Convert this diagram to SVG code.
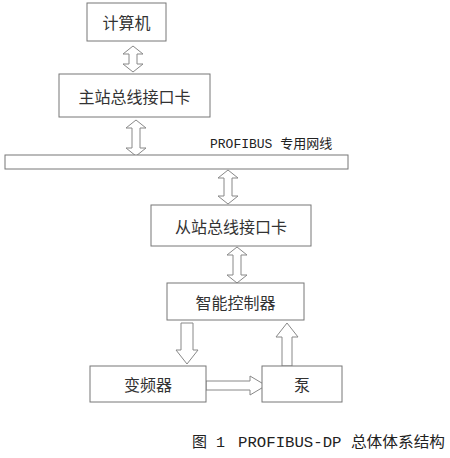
<svg xmlns="http://www.w3.org/2000/svg" width="450" height="458" viewBox="0 0 450 458">
<style>
.box{fill:#fff;stroke:#777;stroke-width:1}
.arr{fill:#fff;stroke:#888;stroke-width:1;stroke-linejoin:miter}
.t{font-family:"Noto Sans CJK SC","Liberation Serif",serif;font-size:16px;fill:#333;text-anchor:middle;dominant-baseline:central}
.lbl{font-family:"Liberation Mono","Noto Sans CJK SC",monospace;font-size:13px;fill:#222}
.cap{font-family:"Liberation Mono","Noto Sans CJK SC",monospace;font-size:15px;fill:#222}
</style>
<rect width="450" height="458" fill="#fff"/>
<g id="connectors">
<path class="arr" d="M133,46 L143,54 L137,54 L137,64 L143,64 L133,72 L123,64 L129,64 L129,54 L123,54 Z"/>
<path class="arr" d="M136,120 L146,128 L140,128 L140,148 L146,148 L136,156 L126,148 L132,148 L132,128 L126,128 Z"/>
<path class="arr" d="M228,170 L238,178 L232,178 L232,196 L238,196 L228,204 L218,196 L224,196 L224,178 L218,178 Z"/>
<path class="arr" d="M237,247 L247,255 L241,255 L241,275 L247,275 L237,283 L227,275 L233,275 L233,255 L227,255 Z"/>
<path class="arr" d="M181,323 L193,323 L193,350 L198,350 L187,364 L176,350 L181,350 Z"/>
<path class="arr" d="M206,381 L250,381 L250,376 L266,385.5 L250,395 L250,390 L206,390 Z"/>
<path class="arr" d="M282,366 L282,337 L276,337 L287,323 L298,337 L292,337 L292,366 Z"/>
</g>
<g id="bus">
<rect class="box" x="5" y="155" width="343" height="14"/>
<text class="lbl" x="210" y="148">PROFIBUS 专用网线</text>
</g>
<g id="computer">
<rect class="box" x="87" y="3" width="79" height="38"/>
<text class="t" x="126.5" y="22">计算机</text>
</g>
<g id="master">
<rect class="box" x="59" y="74" width="151" height="43"/>
<text class="t" x="134.5" y="95.5">主站总线接口卡</text>
</g>
<g id="slave">
<rect class="box" x="151" y="205" width="160" height="41"/>
<text class="t" x="231" y="225.5">从站总线接口卡</text>
</g>
<g id="controller">
<rect class="box" x="167" y="283" width="137" height="37"/>
<text class="t" x="235.5" y="301.5">智能控制器</text>
</g>
<g id="inverter">
<rect class="box" x="90" y="366" width="116" height="36"/>
<text class="t" x="148" y="384">变频器</text>
</g>
<g id="pump">
<rect class="box" x="262" y="366" width="80" height="36"/>
<text class="t" x="302" y="384">泵</text>
</g>
<g id="caption">
<text class="cap" x="192" y="447">图 1</text>
<text class="cap" x="238" y="447" textLength="207" lengthAdjust="spacingAndGlyphs">PROFIBUS-DP 总体体系结构</text>
</g>
</svg>
